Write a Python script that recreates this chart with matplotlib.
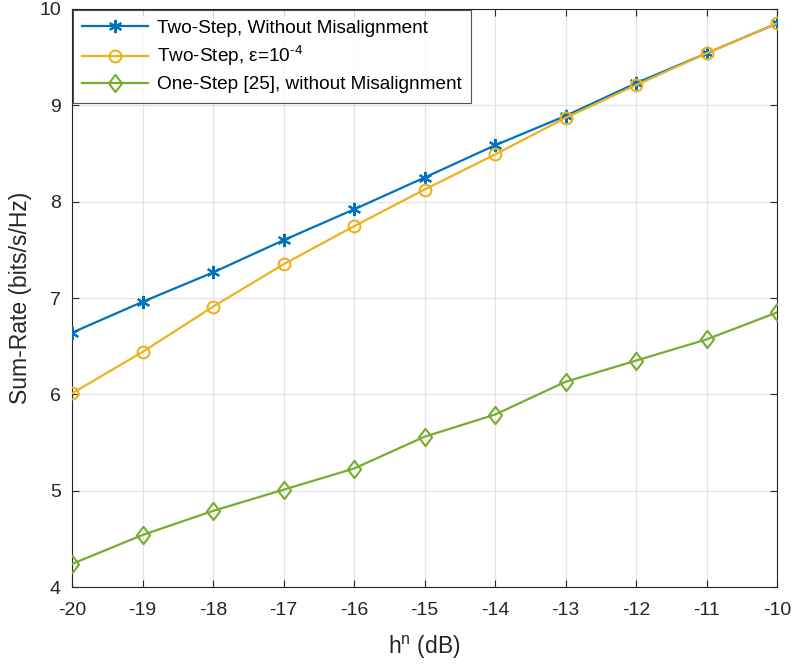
import matplotlib
matplotlib.use("Agg")
import matplotlib.pyplot as plt
from matplotlib.path import Path

plt.rcParams['font.family'] = ['Liberation Sans', 'DejaVu Sans']
plt.rcParams['mathtext.fontset'] = 'custom'
plt.rcParams['mathtext.rm'] = 'Liberation Sans'
plt.rcParams['mathtext.it'] = 'Liberation Sans'
plt.rcParams['axes.unicode_minus'] = False

h_db = [-20, -19, -18, -17, -16, -15, -14, -13, -12, -11, -10]
two_step_ideal = [6.64, 6.96, 7.265, 7.60, 7.92, 8.25, 8.585, 8.89, 9.23, 9.54, 9.85]
two_step_eps = [6.01, 6.44, 6.91, 7.35, 7.745, 8.125, 8.49, 8.87, 9.21, 9.54, 9.85]
one_step = [4.24, 4.54, 4.79, 5.01, 5.23, 5.56, 5.79, 6.13, 6.35, 6.57, 6.85]

labels = ['Two-Step, Without Misalignment',
          'Two-Step, ε=10$^{\\text{-4}}$',
          'One-Step [25], without Misalignment']

blue = '#0072BD'
yellow = '#EDB120'
green = '#77AC30'
axis_col = '#262626'

# slightly tall diamond marker
diamond = Path([(0, 1), (0.76, 0), (0, -1), (-0.76, 0), (0, 1)],
               [Path.MOVETO, Path.LINETO, Path.LINETO, Path.LINETO, Path.CLOSEPOLY])
asterisk = (6, 2, 0)

fig = plt.figure(figsize=(7.94, 6.66), dpi=100)
ax = fig.add_axes([0.0907, 0.1186, 0.8879, 0.8679])

ax.plot(h_db, two_step_ideal, color=blue, lw=1.6, marker=asterisk,
        markersize=9.5, markeredgewidth=1.5, label=labels[0], zorder=3)
ax.plot(h_db, two_step_eps, color=yellow, lw=1.6, marker='o',
        markersize=8.5, markerfacecolor='none', markeredgewidth=1.5,
        label=labels[1], zorder=4)
ax.plot(h_db, one_step, color=green, lw=1.6, marker=diamond,
        markersize=12.5, markerfacecolor='none', markeredgewidth=1.5,
        label=labels[2], zorder=3)

ax.set_xlim(-20, -10)
ax.set_ylim(4, 10)
ax.set_xticks(range(-20, -9))
ax.set_yticks(range(4, 11))
ax.grid(True, color='#e3e3e3', lw=0.9)
ax.set_axisbelow(True)

for s in ax.spines.values():
    s.set_color(axis_col)
    s.set_linewidth(0.8)
ax.tick_params(direction='in', top=True, right=True, length=5,
               colors=axis_col, labelsize=14, labelcolor=axis_col,
               width=0.8)
ax.tick_params(axis='x', pad=11)
ax.tick_params(axis='y', pad=8)

ax.set_xlabel('h$^{\\mathregular{n}}$ (dB)', fontsize=16.5, color=axis_col, labelpad=10.5)
ax.set_ylabel('Sum-Rate (bits/s/Hz)', fontsize=16.5, color=axis_col, labelpad=5)

leg = ax.legend(loc='upper left', fontsize=13.7, frameon=True, fancybox=False,
                edgecolor=axis_col, borderaxespad=0.05, handlelength=3.45,
                labelspacing=0.4, borderpad=0.5, handletextpad=0.45)
leg.get_frame().set_linewidth(0.8)

fig.savefig('out.png', dpi=100)
